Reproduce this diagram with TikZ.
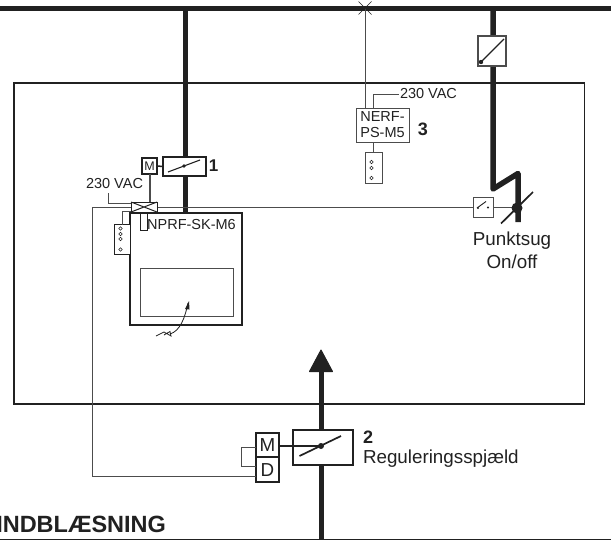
\documentclass[tikz,border=0pt]{standalone}
\usepackage{fontspec}
\setmainfont{Liberation Sans}
\definecolor{ink}{gray}{0.13}
\definecolor{wire}{gray}{0.3}
\tikzset{
  x=1pt,y=-1pt,
  every node/.style={inner sep=0pt,outer sep=0pt,text=ink},
  duct/.style={draw=ink,line width=5pt,line cap=butt,line join=miter},
  thin wire/.style={draw=wire,line width=0.9pt},
  heavy box/.style={draw=ink,line width=2pt,fill=white},
  light box/.style={draw=wire,line width=1pt,fill=white},
  blade/.style={draw=ink,line width=1.1pt},
  lab/.style={font=\fontsize{14.5}{16}\selectfont},
  big/.style={font=\fontsize{18.8}{21}\selectfont},
  num/.style={font=\fontsize{18}{20}\selectfont\bfseries},
  term/.style={draw=ink,line width=0.6pt,circle,minimum size=3.6pt,fill=white}
}
\begin{document}
\begin{tikzpicture}
\useasboundingbox (0,0) rectangle (611,541);
% coordinates
\coordinate (topL) at (0,8.3);
\coordinate (topR) at (611,8.3);
\coordinate (botL) at (0,539.5);
\coordinate (botR) at (611,539.5);
% main bars
\draw[draw=ink,line width=4.5pt] (topL) -- (topR);
\draw[draw=ink,line width=1.3pt] (botL) -- (botR);
% room
\node[draw=ink,line width=1.3pt,minimum width=570.5pt,minimum height=321pt,anchor=north west] (room) at (14,83) {};
% duct 1
\coordinate (d1top) at (185,8);
\node[heavy box,minimum width=112pt,minimum height=112pt,anchor=north west] (nprf) at (130,213) {};
\draw[duct] (d1top) -- (185,213);
% horizontal control wire
\coordinate (wL) at (92,207);
\node[light box,minimum width=20pt,minimum height=20pt] (sw) at (483,207) {};
\coordinate (rd) at (92,476);
% MD
\node[heavy box,minimum width=23pt,minimum height=24pt,anchor=south west] (Mb) at (256,457) {};
\node[heavy box,minimum width=23pt,minimum height=25pt,anchor=north west] (Db) at (256,457) {};
\node[big] at (267.5,445) {M};
\node[big] at (267.5,470) {D};
\draw[thin wire] (wL) -- (rd) -- (Db.west |- rd);
\draw[thin wire] (wL) -- (sw.west);
\draw[thin wire] (Mb.west |- 0,447) -- (241,447) -- (241,466) -- (Db.west |- 0,466);
% valve
\node[draw=ink,line width=1pt,fill=white,minimum width=26pt,minimum height=10pt,anchor=north west] (valve) at (131,202) {};
\draw[draw=ink,line width=1pt] (valve.north west) -- (valve.south east) (valve.south west) -- (valve.north east);
% damper 1
\node[heavy box,minimum width=43pt,minimum height=19pt] (dmp1) at (184.5,166.5) {};
\node[heavy box,minimum width=15pt,minimum height=16pt] (m1) at (149.5,166) {};
\node[font=\fontsize{12.5}{14}\selectfont] at (149.5,166) {M};
\draw[draw=ink,line width=1.5pt] (m1.east) -- (dmp1.west);
\draw[blade] (168,172) -- (200,160);
\fill[ink] (184,166) circle (1.8pt);
\draw[draw=wire,line width=1.1pt] (m1.south -| 150,0) -- (150,202);
% 230 VAC left
\node[lab] (v1) at (114.5,184) {230 VAC};
\draw[thin wire] (108,193) -- (108,203) -- (valve.west |- 0,203);
% nprf details
\node[draw=wire,line width=0.8pt,minimum width=93pt,minimum height=48pt,anchor=north west] (inner) at (140,268) {};
\node[draw=ink,line width=0.8pt,fill=white,minimum width=7pt,minimum height=17pt,anchor=north west] (small) at (140,213) {};
\node[lab] (nlabel) at (191.5,224.5) {NPRF-SK-M6};
\draw[heavy box,fill=none] (nprf.north west) rectangle (nprf.south east);
% terminal left
\node[draw=ink,line width=0.8pt,fill=white,minimum width=16pt,minimum height=30pt,anchor=north west] (t1) at (114.5,224.5) {};
\draw[thin wire] (122,224.5) -- (122,211) -- (valve.west |- 0,211);
\foreach \yy in {228.5,234,239,249.5} \node[term] at (120.5,\yy) {};
% flexible curve
\coordinate (cs) at (156,336);
\coordinate (ce) at (188,303);
\draw[draw=ink,line width=0.8pt] (cs) -- (164,332) -- (171,336) -- (170,331.5) -- (164,335) (170,334) .. controls (180,331) and (185,318) .. (ce);
\fill[ink] (189,301) -- (185,309) -- (189.5,309.5) -- cycle;
% damper right
\coordinate (d3top) at (493,8);
\draw[duct,line width=5.5pt,line join=round] (d3top) -- (493,189) -- (518,173.5) -- (518,222);
\node[light box,line width=1.3pt,minimum width=28pt,minimum height=30pt] (dmp3) at (492,51) {};
\draw[blade] (481,62) -- (504,39);
\fill[ink] (481,62) circle (2.2pt);
% switch
\draw[thin wire] (sw.east) -- (517,207);
\draw[draw=ink,line width=0.9pt] (477,208) -- (486,201.5);
\fill[ink] (478,208) circle (1.1pt) (488,207.5) circle (1.1pt);
\fill[ink] (517,208) circle (5.5pt);
\draw[draw=ink,line width=1.7pt] (501,223.5) -- (533,192);
\node[big] at (512,241) {Punktsug};
\node[big] at (512,262) {On/off};
% 3
\coordinate (x3) at (365,8);
\node[draw=wire,line width=1pt,fill=white,minimum width=53pt,minimum height=34pt,anchor=north west] (nerf) at (356,108) {};
\draw[thin wire] (x3) -- (365,108);
\draw[draw=ink,line width=0.7pt] (358.5,1.5) -- (371.5,14.5) (358.5,14.5) -- (371.5,1.5);
\draw[thin wire] (373,108) -- (373,94) -- (399,94);
\node[lab,anchor=west] at (400,94) {230 VAC};
\node[lab,align=center] at (382.5,125) {NERF-\\PS-M5};
\node[num] at (423,129) {3};
\node[draw=wire,line width=0.8pt,fill=white,minimum width=17pt,minimum height=31pt,anchor=north west] (t3) at (365,152) {};
\draw[thin wire] (373,142) -- (373,152);
\foreach \yy in {162,168,178} \node[term] at (371.5,\yy) {};
\node[num,font=\fontsize{17}{19}\selectfont\bfseries] at (213.5,166) {1};
% duct 2
\coordinate (d2bot) at (321,539);
\draw[duct] (d2bot) -- (321,368);
\draw[fill=ink,draw=ink,line width=1pt,line join=round] (321,350) -- (332.5,371.5) -- (309.5,371.5) -- cycle;
\node[heavy box,minimum width=60pt,minimum height=35pt,anchor=north west] (dmp2) at (293,429.5) {};
\draw[draw=ink,line width=1.4pt] (Mb.east |- 0,446) -- (321,446);
\draw[draw=ink,line width=1.7pt] (299.5,456) -- (341,436);
\fill[ink] (321,446) circle (3pt);
\node[num,anchor=west] at (363,437.5) {2};
\node[big,anchor=west] at (363,459) {Reguleringsspjæld};
\node[anchor=east,font=\fontsize{23.5}{25}\selectfont\bfseries] at (166,524) {INDBLÆSNING};
\end{tikzpicture}
\end{document}
